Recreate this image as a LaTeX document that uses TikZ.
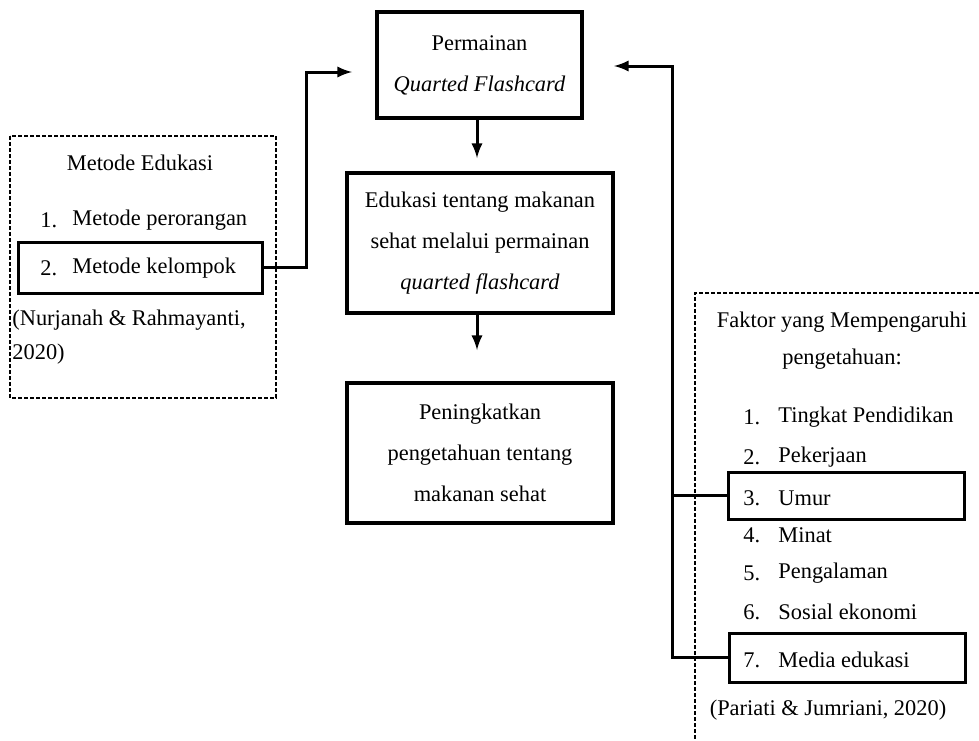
\documentclass[tikz,border=0pt]{standalone}
\usepackage{fontspec}
\setmainfont{Liberation Serif}
\usetikzlibrary{calc}

\begin{document}
\begin{tikzpicture}[x=0.5pt,y=-0.5pt,
  mainbox/.style={draw,line width=2pt,align=center,inner sep=0pt,
    font=\fontsize{11.2}{20.5}\selectfont},
  itembox/.style={draw,line width=1.5pt,inner sep=0pt,
    minimum width=118pt},
  dashbox/.style={line width=0.6pt,dash pattern=on 2pt off 1pt},
  conn/.style={line width=1.5pt},
  txt/.style={inner sep=0pt,font=\fontsize{11.2}{17}\selectfont}]
\useasboundingbox (0,0) rectangle (979,740);

% main column
\node[mainbox,minimum width=102.5pt,minimum height=53pt] (game) at (479.5,65)
  {Permainan\\\textit{Quarted Flashcard}};
\node[mainbox,minimum width=133pt,minimum height=70pt] (edu) at (480,243)
  {Edukasi tentang makanan\\sehat melalui permainan\\\textit{quarted flashcard}};
\node[mainbox,minimum width=133pt,minimum height=70pt] (know) at (480,453)
  {Peningkatkan\\pengetahuan tentang\\makanan sehat};

\coordinate (edutip) at (477,158);
\coordinate (knowtip) at (477,350);
\draw[conn,-latex] (game.south -| edutip) -- (edutip);
\draw[conn,-latex] (edu.south -| knowtip) -- (knowtip);

% metode edukasi
\draw[dashbox] (10,136) rectangle (276,398);
\node[txt] (methtitle) at (140,163) {Metode Edukasi};
\node[itembox,minimum width=122pt,minimum height=25.5pt] (grp) at (140,267.5) {};
\node[txt,anchor=west] at (40,220) {1.};
\node[txt,anchor=west] at (72,220) {Metode perorangan};
\node[txt,anchor=west] at (40,268) {2.};
\node[txt,anchor=west] at (72,268) {Metode kelompok};
\node[txt,anchor=north west,align=left] (methsrc) at (12,310)
  {(Nurjanah \& Rahmayanti,\\2020)};

% faktor pengetahuan
\draw[dashbox] (979,293) -- (695,293) -- (695,740);
\node[txt,align=center,font=\fontsize{11.2}{18.5}\selectfont] (facttitle) at (842,341)
  {Faktor yang Mempengaruhi\\pengetahuan:};
\node[itembox,minimum height=23.5pt] (age) at (846.5,495.5) {};
\node[itembox,minimum height=24.5pt] (media) at (847.5,657.5) {};
\foreach \n/\t/\y in {1/Tingkat Pendidikan/417, 2/Pekerjaan/457, 3/Umur/498,
  4/Minat/535, 5/Pengalaman/573, 6/Sosial ekonomi/612, 7/Media edukasi/660}
{
  \node[txt,anchor=west] at (743,\y) {\n.};
  \node[txt,anchor=west] at (778,\y) {\t};
}
\node[txt] (factsrc) at (828,710) {(Pariati \& Jumriani, 2020)};

% connectors
\coordinate (lbend) at (306,72);
\coordinate (ltip) at (352,72);
\draw[conn,-latex] (grp.east) -| (lbend) -- (ltip);

\coordinate (rbend) at (672,66);
\coordinate (rtip) at (614,66);
\draw[conn,-latex] (media.west) -| (rbend) -- (rtip);
\draw[conn] (age.west) -- (age.west -| rbend);
\end{tikzpicture}
\end{document}
